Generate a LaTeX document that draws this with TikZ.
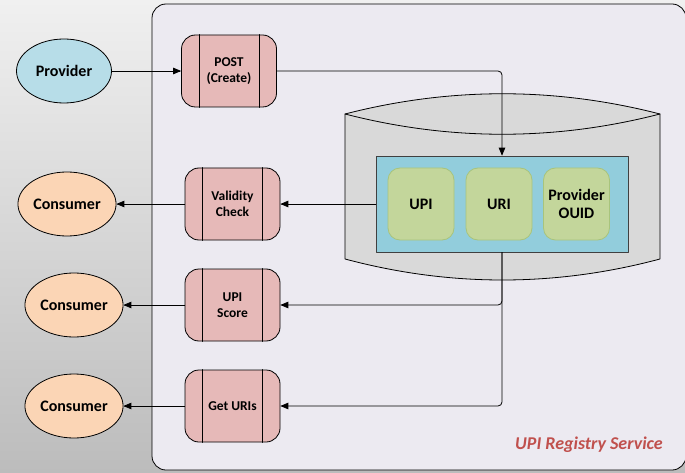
\documentclass[tikz,border=0pt]{standalone}
\usepackage{fontspec}
\setmainfont{Carlito}
\usetikzlibrary{arrows,shapes.geometric}

\definecolor{bgtop}{HTML}{F0F0F0}
\definecolor{bgbot}{HTML}{BCBCBC}
\definecolor{servicebg}{HTML}{ECEAF1}
\definecolor{providerfill}{HTML}{B7DDE8}
\definecolor{consumerfill}{HTML}{FBD5B5}
\definecolor{procfill}{HTML}{E6B9B8}
\definecolor{drumfill}{HTML}{D9D9D9}
\definecolor{storefill}{HTML}{92CDDC}
\definecolor{fieldfill}{HTML}{C3D69B}
\definecolor{fieldline}{HTML}{A8C47C}
\definecolor{labelred}{HTML}{C0504D}

\begin{document}
\begin{tikzpicture}[line cap=round,line join=round,>=triangle 45,x=1pt,y=-1pt,
  line width=0.8pt,
  actor/.style={ellipse,draw=black,minimum width=95pt,minimum height=64pt,inner sep=1pt,
    font=\fontsize{16}{18}\selectfont\bfseries},
  process/.style={draw=black,fill=procfill,rounded corners=14pt,minimum width=95pt,
    minimum height=72pt,align=center,font=\fontsize{13.5}{16}\selectfont\bfseries},
  field/.style={draw=fieldline,fill=fieldfill,rounded corners=12pt,minimum width=66pt,
    minimum height=72pt,align=center,inner sep=1pt,font=\fontsize{16}{18}\selectfont\bfseries}]
\useasboundingbox (0,0) rectangle (685,473);
\shade[top color=bgtop,bottom color=bgbot] (0,0) rectangle (685,473);
% service frame
\draw[fill=servicebg,rounded corners=14pt] (152,4) rectangle (686,470);
% data store drum
\draw[fill=drumfill] (345,114) -- (345,259) .. controls (450,287) and (555,287) .. (660,259)
  -- (660,114) .. controls (555,87) and (450,87) .. cycle;
\draw (345,114) .. controls (450,141) and (555,141) .. (660,114);
\node[draw=black!75,fill=storefill,minimum width=252pt,minimum height=96pt] (store) at (502,204) {};
\node[field] (upi) at (421,204) {UPI};
\node[field] (uri) at (499,204) {URI};
\node[field] (ouid) at (576.5,204) {Provider\\OUID};
% actors
\node[actor,fill=providerfill] (prov) at (64,71) {Provider};
\node[actor,fill=consumerfill] (cons1) at (67,204) {Consumer};
\node[actor,fill=consumerfill] (cons2) at (74,305) {Consumer};
\node[actor,fill=consumerfill] (cons3) at (74,406) {Consumer};
% processes
\node[process] (post) at (229,71) {POST\\(Create)};
\node[process] (valid) at (232.5,204) {Validity\\Check};
\node[process] (score) at (232.5,305) {UPI\\Score};
\node[process] (geturi) at (232.5,406) {Get URIs};
\foreach \n in {post,valid,score,geturi}{
  \draw ([xshift=18pt]\n.north west) -- ([xshift=18pt]\n.south west);
  \draw ([xshift=-18pt]\n.north east) -- ([xshift=-18pt]\n.south east);
}
% flows
\draw[->] (prov) -- (post);
\draw[->,rounded corners=4pt] (post) -| (store);
\draw[->] (store) -- (valid);
\draw[->] (valid) -- (cons1);
\draw[->,rounded corners=4pt] (store) |- (score);
\draw[->,rounded corners=4pt] (store) |- (geturi);
\draw[->] (score) -- (cons2);
\draw[->] (geturi) -- (cons3);
\node[text=labelred,font=\fontsize{18}{20}\selectfont\bfseries\itshape] (title) at (589,445) {UPI Registry Service};
\end{tikzpicture}
\end{document}
